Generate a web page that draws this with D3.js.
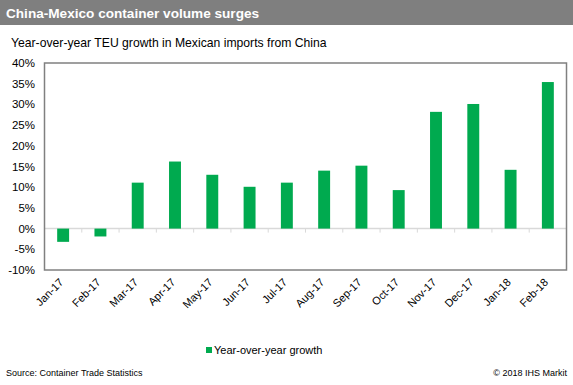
<!DOCTYPE html>
<html>
<head>
<meta charset="utf-8">
<script src="https://cdn.jsdelivr.net/npm/d3@7"></script>
<style>
  body { margin: 0; background: #fff; }
  svg text { font-family: "Liberation Sans", Arial, sans-serif; }
</style>
</head>
<body>
<div id="chart"></div>
<script>
// chart data
const months = ["Jan-17", "Feb-17", "Mar-17", "Apr-17", "May-17", "Jun-17", "Jul-17",
                "Aug-17", "Sep-17", "Oct-17", "Nov-17", "Dec-17", "Jan-18", "Feb-18"];
const growth = [-3.2, -1.9, 11.1, 16.2, 13.0, 10.1, 11.1, 14.0, 15.2, 9.3, 28.2, 30.1, 14.2, 35.4];
const yTicks = [-10, -5, 0, 5, 10, 15, 20, 25, 30, 35, 40];

const width = 573, height = 385;
const margin = {top: 63, right: 6.5, bottom: 115, left: 44.5};

const svg = d3.select("#chart")
    .append("svg")
    .attr("width", width)
    .attr("height", height);

// title bar
svg.append("rect")
    .attr("x", 0).attr("y", 0)
    .attr("width", width).attr("height", 25)
    .attr("fill", "#7f7f7f");
svg.append("text")
    .attr("x", 6).attr("y", 18)
    .attr("fill", "#fff")
    .attr("font-size", 13.6)
    .attr("font-weight", "bold")
    .text("China-Mexico container volume surges");
svg.append("text")
    .attr("x", 11).attr("y", 47)
    .attr("fill", "#000")
    .attr("font-size", 12.2)
    .text("Year-over-year TEU growth in Mexican imports from China");

const x = d3.scaleBand()
    .domain(months)
    .range([margin.left, width - margin.right])
    .paddingInner(0.68)
    .paddingOuter(0.34);

const y = d3.scaleLinear()
    .domain([-10, 40])
    .range([height - margin.bottom, margin.top]);

// y labels
svg.append("g")
    .selectAll("text")
    .data(yTicks)
    .join("text")
    .attr("x", 35)
    .attr("y", d => y(d) + 4)
    .attr("text-anchor", "end")
    .attr("font-size", 11.5)
    .attr("fill", "#000")
    .text(d => d + "%");

// zero line with small ticks at category edges
const band = x.step();
svg.append("line")
    .attr("x1", margin.left).attr("x2", width - margin.right)
    .attr("y1", y(0)).attr("y2", y(0))
    .attr("stroke", "#d9d9d9").attr("stroke-width", 1.5);
svg.append("g")
    .selectAll("line")
    .data(d3.range(months.length + 1))
    .join("line")
    .attr("x1", i => margin.left + i * band)
    .attr("x2", i => margin.left + i * band)
    .attr("y1", y(0)).attr("y2", y(0) + 4)
    .attr("stroke", "#d9d9d9");

// bars
svg.append("g")
    .selectAll("rect")
    .data(growth)
    .join("rect")
    .attr("x", (d, i) => x(months[i]))
    .attr("width", x.bandwidth())
    .attr("y", d => y(Math.max(0, d)))
    .attr("height", d => Math.abs(y(d) - y(0)))
    .attr("fill", "#00aa4f");

// plot border
svg.append("rect")
    .attr("x", margin.left).attr("y", margin.top)
    .attr("width", width - margin.left - margin.right)
    .attr("height", height - margin.top - margin.bottom)
    .attr("fill", "none")
    .attr("stroke", "#808080")
    .attr("stroke-width", 1.5);

// x labels, rotated
svg.append("g")
    .selectAll("text")
    .data(months)
    .join("text")
    .attr("transform", d => `translate(${x(d) + x.bandwidth() / 2 + 1},${height - margin.bottom + 13}) rotate(-45)`)
    .attr("text-anchor", "end")
    .attr("font-size", 11)
    .attr("fill", "#000")
    .text(d => d);

// legend
svg.append("rect")
    .attr("x", 206).attr("y", 347)
    .attr("width", 6).attr("height", 6)
    .attr("fill", "#00aa4f");
svg.append("text")
    .attr("x", 214).attr("y", 354)
    .attr("font-size", 11)
    .attr("fill", "#000")
    .text("Year-over-year growth");

// footer
svg.append("text")
    .attr("x", 6).attr("y", 376)
    .attr("font-size", 9)
    .attr("fill", "#000")
    .text("Source: Container Trade Statistics");
svg.append("text")
    .attr("x", 567).attr("y", 376)
    .attr("text-anchor", "end")
    .attr("font-size", 9)
    .attr("fill", "#000")
    .text("© 2018 IHS Markit");
</script>
</body>
</html>
